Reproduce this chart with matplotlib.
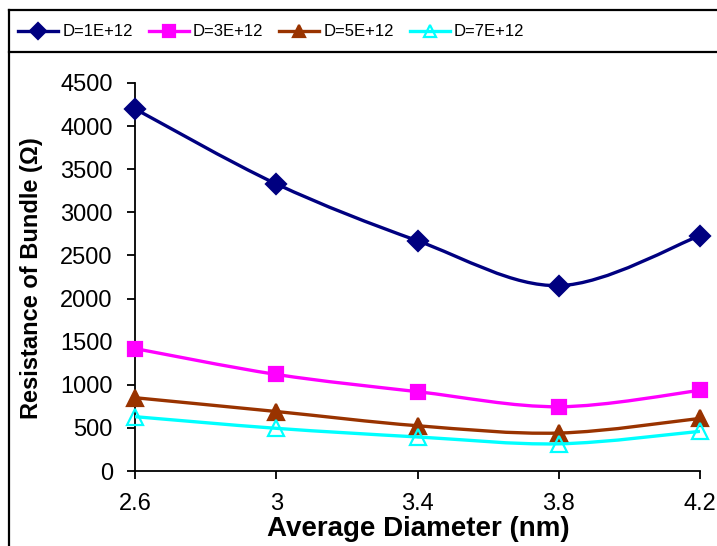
import numpy as np
import matplotlib
matplotlib.use("Agg")
import matplotlib.pyplot as plt
from matplotlib.path import Path
from matplotlib.patches import PathPatch
from matplotlib.lines import Line2D

plt.rcParams['font.family'] = ['Liberation Sans', 'DejaVu Sans']

diameters = [2.6, 3.0, 3.4, 3.8, 4.2]
d_1e12 = [4200, 3330, 2670, 2150, 2730]
d_3e12 = [1420, 1120, 920, 745, 935]
d_5e12 = [850, 690, 525, 440, 610]
d_7e12 = [630, 495, 395, 315, 460]
labels = ["D=1E+12", "D=3E+12", "D=5E+12", "D=7E+12"]
x_ticks = [2.6, 3, 3.4, 3.8, 4.2]
x_tick_labels = ["2.6", "3", "3.4", "3.8", "4.2"]
y_ticks = [0, 500, 1000, 1500, 2000, 2500, 3000, 3500, 4000, 4500]

W, H = 717, 546
fig = plt.figure(figsize=(W / 100, H / 100), dpi=100)
fig.patch.set_facecolor('white')

ax_left, ax_bottom_px, ax_w, ax_h = 135, 471, 565, 388
ax = fig.add_axes([ax_left / W, (H - ax_bottom_px) / H, ax_w / W, ax_h / H])
ax.set_facecolor('none')


def smooth_path(xs, ys):
    pts = np.column_stack([xs, ys]).astype(float)
    n = len(pts)
    verts = [pts[0]]
    codes = [Path.MOVETO]
    for i in range(n - 1):
        p0 = pts[i - 1] if i > 0 else pts[i]
        p1 = pts[i]
        p2 = pts[i + 1]
        p3 = pts[i + 2] if i + 2 < n else pts[i + 1]
        c1 = p1 + (p2 - p0) / 6.0
        c2 = p2 - (p3 - p1) / 6.0
        verts += [c1, c2, p2]
        codes += [Path.CURVE4] * 3
    return Path(verts, codes)


series = [
    (d_1e12, '#000080', 'D', 10.5, '#000080'),
    (d_3e12, '#FF00FF', 's', 10.5, '#FF00FF'),
    (d_5e12, '#993300', '^', 11, '#993300'),
    (d_7e12, '#00FFFF', '^', 11, 'none'),
]
handles = []
for (vals, col, mk, ms, mfc), lab in zip(series, labels):
    patch = PathPatch(smooth_path(diameters, vals), facecolor='none',
                      edgecolor=col, lw=2.4, zorder=3)
    ax.add_patch(patch)
    ax.plot(diameters, vals, linestyle='none', marker=mk, ms=ms,
            mfc=mfc, mec=col, mew=1.6, zorder=4, clip_on=False)
    handles.append(Line2D([], [], color=col, lw=2.4, marker=mk, ms=ms * 0.8,
                          mfc=mfc, mec=col, mew=1.6))

ax.set_xlim(2.6, 4.2)
ax.set_ylim(0, 4500)
ax.set_xticks(x_ticks)
ax.set_xticklabels(x_tick_labels)
ax.set_yticks(y_ticks)
for s in ['top', 'right']:
    ax.spines[s].set_visible(False)
for s in ['left', 'bottom']:
    ax.spines[s].set_linewidth(1.3)
ax.tick_params(axis='both', direction='out', length=6, width=1.3,
               labelsize=17, colors='black')
ax.tick_params(axis='x', pad=10)
ax.tick_params(axis='y', pad=10)
ax.set_xlabel("Average Diameter (nm)", fontsize=20, fontweight='bold', va='center')
ax.set_ylabel("Resistance of Bundle (Ω)", fontsize=17, fontweight='bold', va='center')
ax.xaxis.set_label_coords((418 - ax_left) / ax_w, (ax_bottom_px - 529) / ax_h)
ax.yaxis.set_label_coords((32 - ax_left) / ax_w, (ax_bottom_px - 278) / ax_h)

leg = fig.legend(handles=handles, labels=labels, loc='center left',
                 bbox_to_anchor=(18 / W, 1 - 32 / H), ncol=4, frameon=False,
                 fontsize=12, handlelength=2.4, handletextpad=0.25,
                 columnspacing=0.95, borderaxespad=0, borderpad=0)

# chart frame
lw = 1.6
fig.add_artist(Line2D([9 / W, 9 / W], [0, 1 - 10 / H], transform=fig.transFigure, color='black', lw=lw))
fig.add_artist(Line2D([9 / W, 1], [1 - 10 / H, 1 - 10 / H], transform=fig.transFigure, color='black', lw=lw))
fig.add_artist(Line2D([9 / W, 1], [1 - 52 / H, 1 - 52 / H], transform=fig.transFigure, color='black', lw=lw))

fig.savefig("out.png", dpi=100)
